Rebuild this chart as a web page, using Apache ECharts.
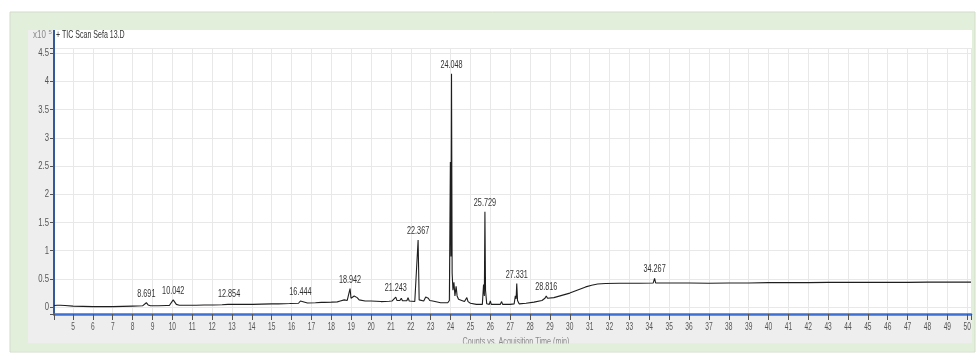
<!DOCTYPE html>
<html><head><meta charset="utf-8">
<script src="https://cdn.jsdelivr.net/npm/echarts@6/dist/echarts.min.js"></script>
<style>html,body{margin:0;padding:0;background:#fff}#c{width:977px;height:360px}</style>
</head><body><div id="c"></div>
<script>
// Retention time (min) of the TIC trace
const traceTime = [4.05,4.2,4.28,4.36,4.6,5.0,5.5,6.0,6.5,7.0,7.5,8.0,8.5,8.6,8.691,8.78,8.9,9.3,9.7,9.78,9.85,9.95,10.042,10.12,10.2,10.35,10.8,11.2,11.6,11.95,12.0,12.06,12.5,12.8,12.854,12.92,13.1,13.18,13.25,13.5,13.57,13.63,13.9,14.0,14.05,14.5,15.0,15.33,15.38,15.43,15.9,16.35,16.444,16.52,16.8,17.2,17.5,17.58,17.65,18.0,18.3,18.45,18.55,18.65,18.72,18.8,18.9,18.942,18.99,19.05,19.15,19.22,19.3,19.4,19.5,19.7,20.0,20.04,20.1,20.5,20.9,20.98,21.05,21.15,21.243,21.3,21.45,21.52,21.58,21.8,21.86,21.92,22.2,22.3,22.367,22.42,22.5,22.65,22.75,22.8,22.88,22.95,23.1,23.15,23.2,23.5,23.75,23.8,23.86,23.94,23.99,24.02,24.048,24.08,24.12,24.17,24.22,24.28,24.33,24.4,24.5,24.56,24.7,24.82,24.88,25.0,25.3,25.6,25.66,25.7,25.729,25.76,25.82,25.95,26.0,26.05,26.5,26.57,26.62,27.0,27.2,27.26,27.3,27.331,27.37,27.45,27.8,28.2,28.6,28.75,28.816,28.88,29.2,29.6,30.0,30.2,30.5,30.8,31.1,31.4,31.8,32.5,33.5,34.2,34.267,34.32,35,36,37,38,39,40,41,42,43,44,45,46,47,48,49,50.19];
// Counts (x10^5)
const traceCounts = [0.03,0.035,0.07,0.035,0.03,0.02,0.015,0.01,0.01,0.01,0.015,0.02,0.025,0.045,0.08,0.04,0.025,0.025,0.03,0.055,0.03,0.05,0.13,0.1,0.05,0.035,0.035,0.035,0.04,0.04,0.065,0.04,0.045,0.05,0.08,0.05,0.05,0.075,0.05,0.05,0.065,0.05,0.05,0.06,0.05,0.055,0.06,0.06,0.08,0.06,0.065,0.07,0.11,0.075,0.075,0.08,0.085,0.1,0.085,0.09,0.095,0.11,0.1,0.13,0.16,0.12,0.15,0.33,0.16,0.13,0.2,0.21,0.17,0.13,0.12,0.11,0.11,0.13,0.105,0.1,0.105,0.13,0.11,0.12,0.18,0.12,0.12,0.16,0.115,0.115,0.17,0.11,0.1,0.12,1.19,0.13,0.1,0.11,0.18,0.15,0.16,0.12,0.11,0.13,0.1,0.08,0.08,0.11,0.08,0.12,2.57,0.9,4.135,0.6,0.3,0.44,0.2,0.37,0.2,0.14,0.17,0.12,0.1,0.17,0.1,0.07,0.05,0.05,0.4,0.2,1.69,0.3,0.06,0.05,0.11,0.05,0.05,0.1,0.05,0.05,0.06,0.2,0.15,0.42,0.12,0.06,0.07,0.09,0.12,0.16,0.2,0.16,0.17,0.21,0.25,0.28,0.32,0.36,0.39,0.41,0.42,0.425,0.425,0.43,0.51,0.43,0.43,0.43,0.425,0.43,0.43,0.435,0.435,0.435,0.44,0.44,0.44,0.44,0.44,0.445,0.445,0.445];
// Labelled peaks
const peakTimes = [8.691,10.042,12.854,16.444,18.942,21.243,22.367,24.048,25.729,27.331,28.816,34.267];
const peakCounts = [0.08,0.13,0.08,0.11,0.33,0.18,1.19,4.135,1.69,0.42,0.2,0.51];
// Tick labels
const xTickLabels = [5,6,7,8,9,10,11,12,13,14,15,16,17,18,19,20,21,22,23,24,25,26,27,28,29,30,31,32,33,34,35,36,37,38,39,40,41,42,43,44,45,46,47,48,49,50];
const yTickLabels = ['0','0.5','1','1.5','2','2.5','3','3.5','4','4.5'];

const X_MIN = 4.044, X_MAX = 50.19, Y_MIN = -0.12, Y_MAX = 4.59;
const FONT = '"Liberation Sans",Arial,sans-serif';
const SX = 0.66;

function textItem(x, y, txt, opts) {
  return {type:'text', x:x, y:y, scaleX:opts.sx || SX, silent:true,
    style:{text:txt, fill:opts.color || '#555', font:(opts.size || 11) + 'px ' + FONT,
      align:opts.align || 'center', verticalAlign:'middle'}};
}

const chart = echarts.init(document.getElementById('c'), null, {renderer:'canvas'});
chart.setOption({
  animation:false,
  backgroundColor:'#ffffff',
  graphic:[
    {type:'rect', z:-10, silent:true, shape:{x:10,y:12,width:965,height:340}, style:{fill:'#e2efda', stroke:'#d3dccb', lineWidth:1}},
    {type:'rect', z:-9, silent:true, shape:{x:28,y:30,width:944,height:313.5}, style:{fill:'#eeeeee'}},
    {type:'rect', z:-8, silent:true, shape:{x:54,y:30,width:918,height:284}, style:{fill:'#ffffff'}},
    {type:'line', z:5, silent:true, shape:{x1:54,y1:30,x2:54,y2:49}, style:{stroke:'#34589c', lineWidth:2}},
    {type:'text', silent:true, x:33, y:35, scaleX:0.8, style:{text:'x10', fill:'#888', font:'10px '+FONT, verticalAlign:'middle'}},
    {type:'text', silent:true, x:48.5, y:32, style:{text:'5', fill:'#888', font:'6px '+FONT, verticalAlign:'middle'}},
    {type:'text', silent:true, x:56, y:34.5, scaleX:0.64, style:{text:'+ TIC Scan Sefa 13.D', fill:'#333', font:'11px '+FONT, verticalAlign:'middle'}},
    {type:'text', silent:true, x:516, y:342, scaleX:0.72, style:{text:'Counts vs. Acquisition Time (min)', fill:'#888', font:'10px '+FONT, align:'center', verticalAlign:'middle'}},
    {type:'rect', z:10, silent:true, shape:{x:11,y:343.5,width:963,height:8}, style:{fill:'#e2efda'}}
  ],
  grid:{left:54, right:6, top:48, bottom:46, containLabel:false},
  xAxis:{
    type:'value', min:X_MIN, max:X_MAX, splitNumber:46,
    axisLine:{onZero:false, lineStyle:{color:'#3d70d2', width:2.5}},
    axisTick:{show:true, length:6, lineStyle:{color:'#555'}},
    axisLabel:{show:false},
    splitLine:{show:true, lineStyle:{color:'#e8e8e8', width:1}}
  },
  yAxis:{
    type:'value', min:Y_MIN, max:Y_MAX, splitNumber:10,
    axisLine:{show:true, onZero:false, lineStyle:{color:'#34589c', width:2}},
    axisTick:{show:true, length:4, lineStyle:{color:'#555'}},
    axisLabel:{show:false},
    splitLine:{show:true, lineStyle:{color:'#e8e8e8', width:1}}
  },
  series:[
    {type:'line', data:traceTime.map((t,i)=>[t,traceCounts[i]]), showSymbol:false, smooth:false,
     lineStyle:{color:'#1e1e1e', width:1.1}, silent:true, z:3},
    // peak retention-time labels
    {type:'custom', silent:true, z:4, clip:false,
     data:peakTimes.map((t,i)=>[t,peakCounts[i]]),
     renderItem:(params, api)=>{
       const p = api.coord([api.value(0), api.value(1)]);
       return textItem(p[0], p[1]-9, api.value(0).toFixed(3), {color:'#333', size:11});
     }},
    // x tick labels
    {type:'custom', silent:true, z:4, clip:false,
     data:xTickLabels.map(v=>[v, Y_MIN]),
     renderItem:(params, api)=>{
       const p = api.coord([api.value(0), api.value(1)]);
       return textItem(p[0], p[1]+13, String(xTickLabels[params.dataIndex]), {color:'#555', size:11, sx:0.6});
     }},
    // y tick labels
    {type:'custom', silent:true, z:4, clip:false,
     data:yTickLabels.map(v=>[X_MIN, parseFloat(v)]),
     renderItem:(params, api)=>{
       const p = api.coord([api.value(0), api.value(1)]);
       return textItem(p[0]-5, p[1], yTickLabels[params.dataIndex], {color:'#555', size:11, align:'right', sx:0.7});
     }}
  ]
});
</script></body></html>
